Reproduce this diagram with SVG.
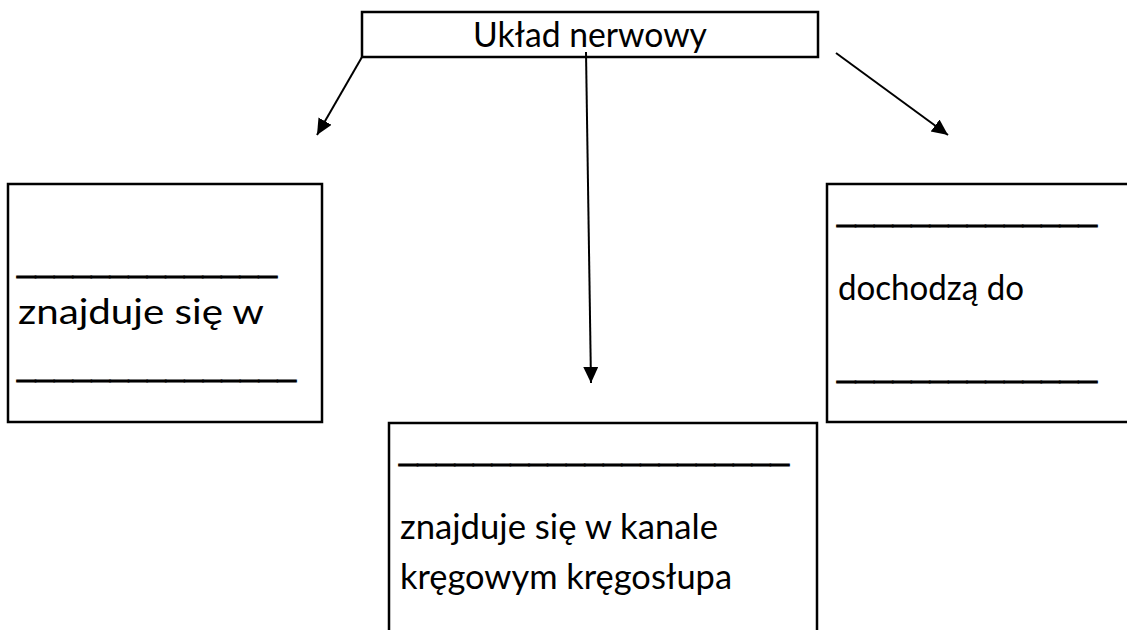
<svg xmlns="http://www.w3.org/2000/svg" width="1127" height="630" viewBox="0 0 1127 630">
<style>
.box{fill:#fff;stroke:#000;stroke-width:2.5}
.t{font-family:Lato,"Liberation Sans",sans-serif;font-size:35px;fill:#000}
.u{font-family:"Liberation Sans",Arial,sans-serif;font-size:34px;fill:#000;stroke:#000;stroke-width:0.8}
.c{stroke:#000;stroke-width:2;fill:none}
</style>
<defs>
<marker id="ah" markerUnits="userSpaceOnUse" markerWidth="18" markerHeight="16" refX="16" refY="7.5" orient="auto">
<path d="M0,0 L16,7.5 L0,15 z" fill="#000"/>
</marker>
</defs>
<rect width="1127" height="630" fill="#fff"/>
<g id="top">
<rect class="box" x="362" y="12" width="456" height="45"/>
<text class="t" x="473" y="47" textLength="234" lengthAdjust="spacingAndGlyphs">Układ nerwowy</text>
</g>
<g id="left">
<rect class="box" x="8" y="184" width="314" height="238"/>
<text class="u" x="17" y="271" textLength="260" lengthAdjust="spacingAndGlyphs">______________</text>
<text class="t" x="18" y="324" textLength="246" lengthAdjust="spacingAndGlyphs">znajduje się w</text>
<text class="u" x="17" y="375" textLength="279" lengthAdjust="spacingAndGlyphs">_______________</text>
</g>
<g id="right">
<rect class="box" x="827" y="184" width="310" height="238"/>
<text class="u" x="837" y="220" textLength="260" lengthAdjust="spacingAndGlyphs">______________</text>
<text class="t" x="838" y="300" textLength="186" lengthAdjust="spacingAndGlyphs">dochodzą do</text>
<text class="u" x="837" y="376" textLength="260" lengthAdjust="spacingAndGlyphs">______________</text>
</g>
<g id="center">
<rect class="box" x="389" y="423" width="428" height="220"/>
<text class="u" x="399" y="459" textLength="390" lengthAdjust="spacingAndGlyphs">_____________________</text>
<text class="t" x="400" y="539" textLength="318" lengthAdjust="spacingAndGlyphs">znajduje się w kanale</text>
<text class="t" x="400" y="589" textLength="332" lengthAdjust="spacingAndGlyphs">kręgowym kręgosłupa</text>
</g>
<g id="connectors">
<line class="c" x1="362" y1="57" x2="317" y2="135" marker-end="url(#ah)"/>
<line class="c" x1="586" y1="52" x2="591" y2="383" marker-end="url(#ah)"/>
<line class="c" x1="836" y1="53" x2="948" y2="135" marker-end="url(#ah)"/>
</g>
</svg>
